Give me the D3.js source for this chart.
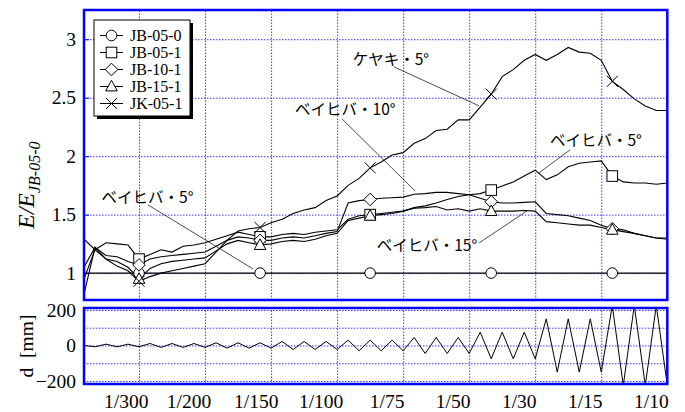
<!DOCTYPE html>
<html><head><meta charset="utf-8">
<script src="https://cdn.jsdelivr.net/npm/d3@7"></script>
<style>body{margin:0;background:#fff} svg{display:block}</style>
</head><body><svg id="c" width="685" height="412"></svg>
<script>
// ---------------- data ----------------
const seriesNames = ["JB-05-0","JB-05-1","JB-10-1","JB-15-1","JK-05-1"];
const xSteps = [0.5,1,1.5,2,2.5,3,3.5,4,4.5,5,5.5,6,6.5,7,7.5,8,8.5,9,9.5,10,10.5,11,11.5,12,12.5,13,13.5,14,14.5,15,15.5,16,16.5,17,17.5,18,18.5,19,19.5,20,20.5,21,21.5,22,22.5,23,23.5,24,24.5,25,25.5,26,26.5,27];
const jb050 = [1,1,1,1,1,1,1,1,1,1,1,1,1,1,1,1,1,1,1,1,1,1,1,1,1,1,1,1,1,1,1,1,1,1,1,1,1,1,1,1,1,1,1,1,1,1,1,1,1,1,1,1,1,1];
const jb051 = [1.29,1.20,1.26,1.25,1.24,1.12,1.16,1.20,1.18,1.23,1.24,1.26,1.29,1.32,1.35,1.33,1.31,1.31,1.33,1.34,1.33,1.35,1.36,1.37,1.46,1.49,1.50,1.51,1.52,1.53,1.56,1.575,1.60,1.63,1.655,1.67,1.68,1.71,1.745,1.78,1.83,1.88,1.80,1.84,1.91,1.94,1.95,1.96,1.83,1.78,1.77,1.77,1.76,1.77];
const jb101 = [1.05,1.22,1.15,1.14,1.10,1.07,1.12,1.14,1.15,1.16,1.17,1.18,1.23,1.28,1.31,1.30,1.28,1.28,1.30,1.31,1.30,1.32,1.34,1.355,1.60,1.62,1.63,1.64,1.645,1.65,1.675,1.68,1.69,1.69,1.68,1.67,1.64,1.61,1.60,1.60,1.605,1.61,1.51,1.50,1.49,1.47,1.45,1.41,1.38,1.37,1.34,1.32,1.30,1.30];
const jb151 = [0.95,1.20,1.12,1.10,1.05,0.95,1.04,1.08,1.10,1.11,1.12,1.13,1.19,1.25,1.28,1.26,1.24,1.25,1.27,1.28,1.27,1.29,1.32,1.34,1.45,1.47,1.49,1.50,1.51,1.53,1.555,1.56,1.57,1.54,1.55,1.53,1.55,1.53,1.53,1.53,1.535,1.53,1.44,1.43,1.42,1.41,1.41,1.39,1.37,1.355,1.34,1.32,1.30,1.29];
const jk051 = [0.82,1.22,1.12,1.06,1.02,0.93,0.97,1.00,1.02,1.04,1.06,1.08,1.18,1.28,1.36,1.38,1.39,1.43,1.46,1.51,1.54,1.56,1.62,1.66,1.75,1.81,1.90,1.95,2.01,2.03,2.11,2.15,2.22,2.23,2.31,2.31,2.42,2.53,2.68,2.74,2.82,2.87,2.82,2.87,2.93,2.89,2.88,2.82,2.64,2.57,2.49,2.43,2.39,2.39];
const markerSteps = [3, 8.5, 13.5, 19, 24.5];
// displacement history [mm]
const disp = [0,-7.5,7.5,-7.5,7.5,-7.5, 11,-11,11,-11,11,-11, 15,-15,15,-15,15,-15, 22.5,-22.5,22.5,-22.5,22.5,-22.5, 30,-30,30,-30,30,-30, 45,-45,45,-45,45,-45, 75,-75,75,-75,75,-75, 150,-150,150,-150,150,-150, 225,-225,225,-225,225,-225];
const xLabels = ["1/300","1/200","1/150","1/100","1/75","1/50","1/30","1/15","1/10"];
const xLabelPos = [2.4,5.25,8.3,11.25,14.25,17.25,20.25,23.25,26.25];
const xGrid = [3,6,9,12,15,18,21,24];
const yTicksTop = [1,1.5,2,2.5,3];
const yTicksBot = [-200,0,200];
const yGridBot = [-200,-100,0,100,200];
const notes = [
  {text:"ケヤキ・5°",  tx:12.71, ty:2.78,  x1:14.58, y1:2.764, x2:18.45, y2:2.43},
  {text:"ベイヒバ・10°", tx:10.09, ty:2.353, x1:12.22, y1:2.319, x2:15.54, y2:1.703},
  {text:"ベイヒバ・5°",  tx:21.67, ty:2.088, x1:22.58, y1:2.054, x2:21.17, y2:1.857},
  {text:"ベイヒバ・5°",  tx:1.30,  ty:1.60,  x1:3.41,  y1:1.583, x2:8.18,  y2:1.036},
  {text:"ベイヒバ・15°", tx:13.80, ty:1.19,  x1:18.45, y1:1.258, x2:20.63, y2:1.532}
];
const series = [jb050, jb051, jb101, jb151, jk051];
const shapes = ["circle","square","diamond","triangle","x"];

// ---------------- layout ----------------
const svg = d3.select("#c");
const X0 = 84, X1 = 667.3, TT = 10, TB = 300, BT = 308, BB = 384;
const BLUE = "#0000ff", GRID = "#3b3bff";
const SERIF = "'Liberation Serif','Times New Roman',serif";
const x  = d3.scaleLinear().domain([0.5, 27]).range([X0, X1]);
const yT = d3.scaleLinear().domain([0.77, 3.25]).range([TB, TT]);
const yB = d3.scaleLinear().domain([-217, 211]).range([BB, BT]);

const defs = svg.append("defs");
defs.append("clipPath").attr("id","clipT").append("rect").attr("x",X0).attr("y",TT).attr("width",X1-X0).attr("height",TB-TT);
defs.append("clipPath").attr("id","clipB").append("rect").attr("x",X0).attr("y",BT).attr("width",X1-X0).attr("height",BB-BT);

function styleGrid(g){
  g.select(".domain").remove();
  g.selectAll(".tick line").attr("stroke",GRID).attr("stroke-width",1).attr("stroke-dasharray","1.5,1.5");
}
svg.append("g").attr("transform",`translate(0,${TB})`)
  .call(d3.axisBottom(x).tickValues(xGrid).tickSize(-(TB-TT)).tickFormat(""))
  .call(styleGrid);
svg.append("g").attr("transform",`translate(${X0},0)`)
  .call(d3.axisLeft(yT).tickValues(yTicksTop).tickSize(-(X1-X0)).tickFormat(""))
  .call(styleGrid);
svg.append("g").attr("transform",`translate(0,${BB})`)
  .call(d3.axisBottom(x).tickValues(xGrid).tickSize(-(BB-BT)).tickFormat(""))
  .call(styleGrid);
svg.append("g").attr("transform",`translate(${X0},0)`)
  .call(d3.axisLeft(yB).tickValues(yGridBot).tickSize(-(X1-X0)).tickFormat(""))
  .call(styleGrid);

function styleAxis(g){
  g.select(".domain").remove();
  g.selectAll(".tick line").attr("stroke",BLUE).attr("stroke-width",1);
  g.selectAll("text").attr("font-family",SERIF).attr("font-size","19.5px").attr("fill","#000");
}
svg.append("g").attr("transform",`translate(${X0},0)`)
  .call(d3.axisLeft(yT).tickValues(yTicksTop).tickSize(-5).tickPadding(8).tickFormat(d3.format("")))
  .call(styleAxis);
svg.append("g").attr("transform",`translate(${X0},0)`)
  .call(d3.axisLeft(yB).tickValues(yTicksBot).tickSize(0).tickPadding(8).tickFormat(d3.format("")))
  .call(styleAxis);
svg.append("g").attr("transform",`translate(0,${BB})`)
  .call(d3.axisBottom(x).tickValues(xLabelPos).tickSize(0).tickPadding(10).tickFormat((d,i)=>xLabels[i]))
  .call(styleAxis);

const line = d3.line().x((d,i)=>x(xSteps[i])).y(d=>yT(d));
const gL = svg.append("g").attr("clip-path","url(#clipT)");
series.forEach(s=>{
  gL.append("path").datum(s).attr("d",line).attr("fill","none").attr("stroke","#000").attr("stroke-width",1.1);
});
const lineB = d3.line().x((d,i)=>x(xSteps[i])).y(d=>yB(d));
svg.append("g").attr("clip-path","url(#clipB)").append("path").datum(disp)
  .attr("d",lineB).attr("fill","none").attr("stroke","#000").attr("stroke-width",1);

function marker(g, shape, cx, cy){
  const st = {fill:"#fff", stroke:"#000", "stroke-width":1};
  let el;
  if(shape==="circle") el = g.append("circle").attr("cx",cx).attr("cy",cy).attr("r",5.3);
  else if(shape==="square") el = g.append("rect").attr("x",cx-5.3).attr("y",cy-5.3).attr("width",10.6).attr("height",10.6);
  else if(shape==="diamond") el = g.append("path").attr("d",`M${cx},${cy-6.3}L${cx+6.3},${cy}L${cx},${cy+6.3}L${cx-6.3},${cy}Z`);
  else if(shape==="triangle") el = g.append("path").attr("d",`M${cx},${cy-6.2}L${cx+5.8},${cy+4.4}L${cx-5.8},${cy+4.4}Z`);
  else { el = g.append("path").attr("d",`M${cx-5.5},${cy-5.5}L${cx+5.5},${cy+5.5}M${cx+5.5},${cy-5.5}L${cx-5.5},${cy+5.5}`); st.fill="none"; }
  Object.entries(st).forEach(([k,v])=>el.attr(k,v));
}
const gM = svg.append("g");
series.forEach((s,si)=>{
  markerSteps.forEach(ms=>{
    const i = xSteps.indexOf(ms);
    marker(gM, shapes[si], x(xSteps[i]), yT(s[i]));
  });
});

const gN = svg.append("g");
notes.forEach(n=>{
  gN.append("line").attr("x1",x(n.x1)).attr("y1",yT(n.y1)).attr("x2",x(n.x2)).attr("y2",yT(n.y2))
    .attr("stroke","#000").attr("stroke-width",0.7);
  gN.append("text").attr("x",x(n.tx)).attr("y",yT(n.ty)).text(n.text)
    .attr("font-family","'Noto Sans CJK JP',sans-serif").attr("font-size","15.5px").attr("fill","#000");
});

svg.append("rect").attr("x",X0).attr("y",TT).attr("width",X1-X0).attr("height",TB-TT)
  .attr("fill","none").attr("stroke",BLUE).attr("stroke-width",2.5);
svg.append("rect").attr("x",X0).attr("y",BT).attr("width",X1-X0).attr("height",BB-BT)
  .attr("fill","none").attr("stroke",BLUE).attr("stroke-width",2.5);

const LG = {x:94, y:20, w:96, h:96};
svg.append("rect").attr("x",LG.x+3).attr("y",LG.y+3).attr("width",LG.w).attr("height",LG.h).attr("fill","#000");
svg.append("rect").attr("x",LG.x).attr("y",LG.y).attr("width",LG.w).attr("height",LG.h).attr("fill","#fff").attr("stroke","#000").attr("stroke-width",1);
seriesNames.forEach((nm,i)=>{
  const cy = 35.5 + i*17;
  svg.append("line").attr("x1",100).attr("x2",123).attr("y1",cy).attr("y2",cy).attr("stroke","#000").attr("stroke-width",1);
  marker(svg, shapes[i], 111.5, cy);
  svg.append("text").attr("x",130).attr("y",cy+5.5).text(nm)
    .attr("font-family",SERIF).attr("font-size","16px").attr("fill","#000");
});

const yt = svg.append("text").attr("transform","translate(34,229) rotate(-90)")
  .attr("font-family",SERIF).attr("font-style","italic").attr("font-size","24px").attr("fill","#000");
yt.append("tspan").text("E/E");
yt.append("tspan").attr("dy",6).attr("font-size","16px").text("JB-05-0");
svg.append("text").attr("transform","translate(33,346) rotate(-90)")
  .attr("font-family",SERIF).attr("font-size","19.5px").attr("text-anchor","middle").attr("fill","#000")
  .attr("xml:space","preserve").text("d  [mm]");
</script></body></html>
